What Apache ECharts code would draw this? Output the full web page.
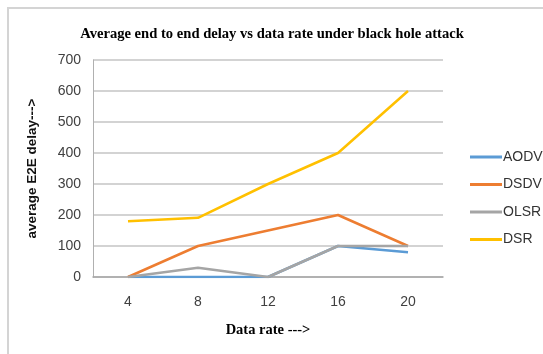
<!DOCTYPE html>
<html><head><meta charset="utf-8">
<script src="https://cdn.jsdelivr.net/npm/echarts@6/dist/echarts.min.js"></script>
<style>html,body{margin:0;padding:0;background:#fff}#c{width:543px;height:354px}</style>
</head><body><div id="c"></div>
<script>
const categories = ['4', '8', '12', '16', '20'];
const aodv = [0, 0, 0, 100, 80];
const dsdv = [0, 100, 150, 200, 100];
const olsr = [0, 30, 0, 100, 100];
const dsr = [180, 191, 300, 400, 600];
const yTicks = {min: 0, max: 700, interval: 100};

const chart = echarts.init(document.getElementById('c'), null, {renderer: 'canvas'});
const lbl = {color: '#404040', fontFamily: 'Liberation Sans, Arial, sans-serif', fontSize: 14};
function s(name, data, color) {
  return {name, type: 'line', data, symbol: 'none', lineStyle: {color, width: 2.5}, itemStyle: {color}};
}
chart.setOption({
  animation: false,
  graphic: [{type: 'rect', shape: {x: 8, y: 8, width: 700, height: 500}, style: {fill: 'none', stroke: '#d4d4d4', lineWidth: 2}, silent: true}],
  title: {text: 'Average end to end delay vs data rate under black hole attack', left: 267, textAlign: 'center', top: 22,
    textStyle: {fontFamily: 'Liberation Serif, Times New Roman, serif', fontWeight: 'bold', fontSize: 14.6, color: '#000'}},
  grid: {left: 93, top: 60, width: 350, height: 217, containLabel: false},
  legend: {orient: 'vertical', left: 465, top: 144, itemGap: 11.5, itemWidth: 32, itemHeight: 3,
    icon: 'rect', textStyle: Object.assign({}, lbl, {color: '#333', padding: [0, 0, 0, -4], height: 16, lineHeight: 16}),
    data: ['AODV', 'DSDV', 'OLSR', 'DSR']},
  xAxis: {type: 'category', data: categories, boundaryGap: true,
    name: 'Data rate --->', nameLocation: 'middle', nameGap: 46,
    nameTextStyle: {fontFamily: 'Liberation Serif, Times New Roman, serif', fontWeight: 'bold', fontSize: 14.5, color: '#000'},
    axisLine: {lineStyle: {color: '#a6a6a6', width: 1.5}}, axisTick: {show: false},
    axisLabel: Object.assign({}, lbl, {margin: 18})},
  yAxis: {type: 'value', min: yTicks.min, max: yTicks.max, interval: yTicks.interval,
    name: 'average E2E delay--->', nameLocation: 'middle', nameGap: 54,
    nameTextStyle: {fontFamily: 'Liberation Sans, Arial, sans-serif', fontWeight: 'bold', fontSize: 13.5, color: '#111'},
    axisLine: {show: true, lineStyle: {color: '#b0b0b0', width: 1}}, axisTick: {show: false},
    axisLabel: Object.assign({}, lbl, {margin: 12}),
    splitLine: {lineStyle: {color: '#c4c4c4', width: 1.5}}},
  series: [s('AODV', aodv, '#5b9bd5'), s('DSDV', dsdv, '#ed7d31'), s('OLSR', olsr, '#a5a5a5'), s('DSR', dsr, '#ffc000')]
});
</script></body></html>
